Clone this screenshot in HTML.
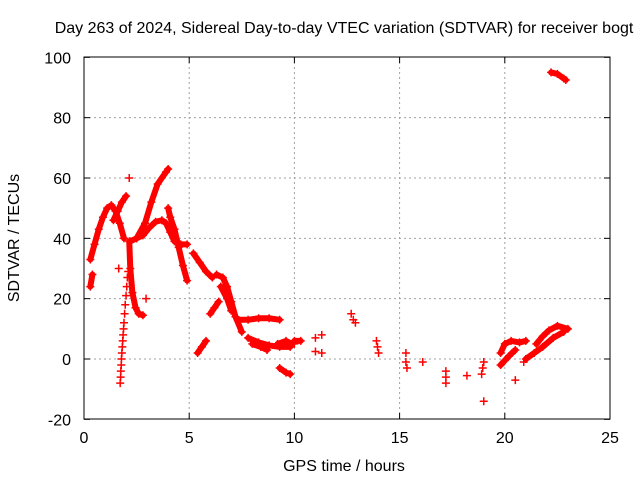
<!DOCTYPE html>
<html><head><meta charset="utf-8"><style>
body{margin:0;background:#fff}
svg text{font-family:"Liberation Sans",sans-serif;font-size:16px;fill:#000}
</style></head><body>
<svg width="640" height="480">
<g id="grid"></g>
<g id="marks"></g>
<rect x="84" y="57" width="526" height="362" fill="none" stroke="#000"/>
<g id="ticks"></g>
<text x="344" y="33" text-anchor="middle">Day 263 of 2024, Sidereal Day-to-day VTEC variation (SDTVAR) for receiver bogt</text>
<text x="344" y="471" text-anchor="middle">GPS time / hours</text>
<text transform="translate(19,238) rotate(-90)" text-anchor="middle">SDTVAR / TECUs</text>
</svg>
<script>
const xTicks=[0,5,10,15,20,25];
const yTicks=[-20,0,20,40,60,80,100];
const traces=[
[[0.3,33],[0.5,38],[0.7,43],[0.9,47],[1.1,50],[1.3,51],[1.5,49],[1.7,45],[1.9,40]],
[[0.3,24],[0.4,28]],
[[1.4,46],[1.6,49],[1.8,52],[2.0,54]],
[[2.15,60]],
[[1.65,30]],
[[2.15,39],[2.2,30],[2.3,22],[2.45,17],[2.6,15],[2.8,14.5]],
[[2.95,20]],
[[2.5,40],[2.9,45],[3.2,52],[3.5,58],[3.9,62],[4.0,63]],
[[2.2,39],[2.5,40],[2.8,41],[3.1,43.5],[3.4,45.5],[3.7,46],[3.9,45],[4.1,42],[4.3,39],[4.6,38],[4.9,38]],
[[4.0,50],[4.1,47],[4.3,43],[4.5,37],[4.7,31],[4.9,26]],
[[5.2,35],[5.5,32],[5.8,29],[6.1,27]],
[[6.3,28],[6.6,27],[6.8,24],[7.0,19],[7.2,14],[7.5,9]],
[[6.5,24],[6.8,20],[7.0,16]],
[[6.0,15],[6.2,17],[6.4,19]],
[[5.4,2],[5.6,4],[5.8,6]],
[[7.3,13],[7.8,13],[8.3,13.5],[8.8,13.5],[9.3,13]],
[[7.8,7],[8.3,5.5],[8.8,4.5],[9.3,4],[9.8,4]],
[[8.0,5],[8.4,4],[8.7,3]],
[[9.2,5],[9.6,6],[9.9,5]],
[[9.3,-3],[9.6,-4.5],[9.8,-5]],
[[10.0,6],[10.3,6]],[[10.0,5]],
[[11.0,7]],[[11.3,8]],[[11.0,2.5]],[[11.3,2]],
[[12.7,15]],[[12.8,13]],[[12.9,12]],
[[13.9,6]],[[13.95,4]],[[14.0,2]],
[[15.3,2]],[[15.3,-1]],[[15.35,-3]],[[16.1,-1]],
[[17.2,-4]],[[17.2,-6]],[[17.2,-8]],[[18.2,-5.5]],
[[19.0,-1]],[[18.95,-3]],[[18.9,-5]],[[19.0,-14]],
[[19.8,2],[20.0,5],[20.3,6],[20.7,5.5],[21.0,6]],
[[19.8,-2],[20.0,-0.5],[20.2,1],[20.5,3]],
[[20.5,-7]],[[20.9,-1]],
[[21.0,0],[21.4,2],[21.8,4],[22.3,7],[22.8,9]],
[[21.5,5],[21.8,7.5],[22.1,9.5],[22.5,11],[23.0,10]],
[[22.2,95],[22.5,94.5],[22.8,93],[22.9,92.5]]
];
const stackTimes=[1.72,1.74,1.75,1.77,1.78,1.8,1.82,1.84,1.86,1.88,1.9,1.93,1.96,2.0,2.03,2.06,2.1];
const stackValues=[-8,-6,-4,-2,0,2,4,6,8,10,12,15,18,21,24,27,29];
const X=h=>84+h*526/25, Y=v=>359-v*362/120;
const NS="http://www.w3.org/2000/svg";
const grid=document.getElementById('grid'),tk=document.getElementById('ticks'),mk=document.getElementById('marks');
function el(t,a,p){const e=document.createElementNS(NS,t);for(const k in a)e.setAttribute(k,a[k]);p.appendChild(e);return e;}
xTicks.forEach(t=>{const x=X(t);
 if(t>0&&t<25){const g=el('line',{x1:x,x2:x,y1:57,y2:419,stroke:'#a0a0a0','stroke-dasharray':'2,3'},grid);
 
 }
 const l=el('text',{x:x,y:443,'text-anchor':'middle'},tk);l.textContent=t;
 
 
 el('line',{x1:x,x2:x,y1:419,y2:413,stroke:'#000'},tk);el('line',{x1:x,x2:x,y1:57,y2:63,stroke:'#000'},tk);});
yTicks.forEach(t=>{const y=Y(t);
 if(t>-20&&t<100){const g=el('line',{x1:84,x2:610,y1:y,y2:y,stroke:'#a0a0a0','stroke-dasharray':'2,3'},grid);
 
 }
 const l=el('text',{x:71,y:y+6,'text-anchor':'end'},tk);l.textContent=t;
 
 
 el('line',{x1:84,x2:90,y1:y,y2:y,stroke:'#000'},tk);el('line',{x1:610,x2:604,y1:y,y2:y,stroke:'#000'},tk);});
function plus(x,y){
 const m=el('path',{d:`M${x-4},${y}h8M${x},${y-4}v8`,stroke:'#f00','stroke-width':1.5},mk);
 
 }
traces.forEach(tr=>{
 if(tr.length>1){const p=el('polyline',{points:tr.map(d=>X(d[0])+','+Y(d[1])).join(' '),fill:'none',stroke:'#f00','stroke-width':6,'stroke-linejoin':'round','stroke-linecap':'round'},mk);
 
 }
 tr.forEach(d=>plus(X(d[0]),Y(d[1])));
});
stackTimes.forEach((t,i)=>plus(X(t),Y(stackValues[i])));
</script>
</body></html>
